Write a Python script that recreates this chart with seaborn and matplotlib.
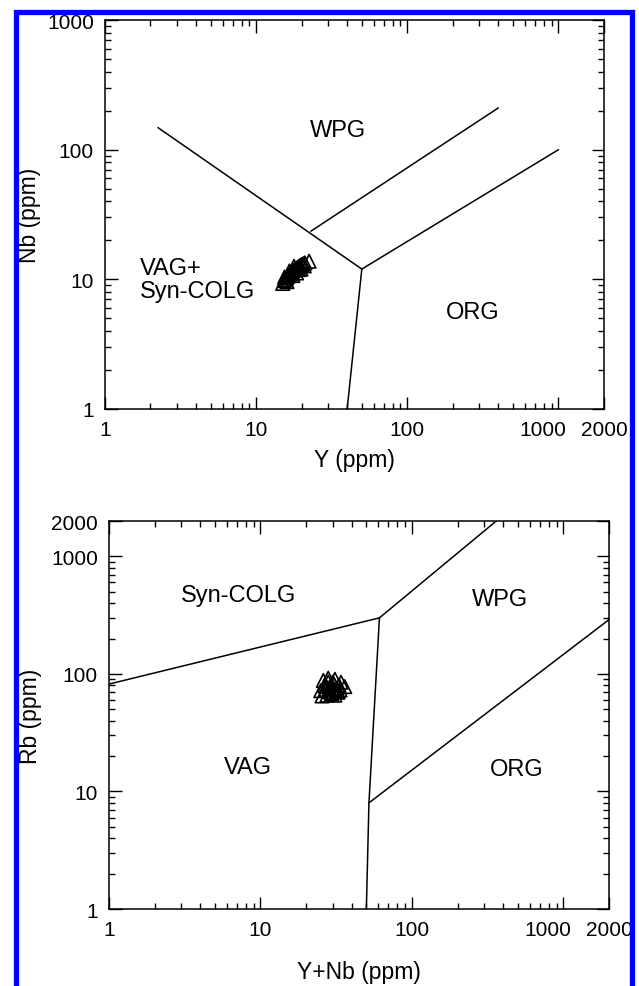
import numpy as np
import pandas as pd
import matplotlib
matplotlib.use("Agg")
import matplotlib.pyplot as plt
import matplotlib.patches as patches
import matplotlib.transforms as mtrans
import seaborn as sns

# Data - sample points
top_y = [15.0, 15.3, 15.6, 15.9, 16.2, 16.5, 16.8, 17.0, 17.3, 17.6, 18.0, 18.3,
         18.7, 19.0, 19.5, 20.0, 20.5, 21.0, 22.4, 16.0, 17.5, 18.5, 19.8,
         15.4, 16.6, 17.8, 19.2, 20.8]
top_nb = [9.3, 9.8, 10.0, 10.3, 10.6, 10.8, 11.0, 11.3, 11.5, 11.7, 11.9, 12.1,
          12.3, 12.5, 12.8, 13.0, 13.2, 13.4, 13.8, 9.6, 10.7, 11.2, 12.0,
          10.4, 11.6, 12.6, 11.9, 12.7]

bot_ynb = [25, 26, 27, 28, 29, 30, 31, 32, 33, 27.5, 29.5, 31.5, 26.5, 28.5,
           30.5, 34, 36, 25.5, 30, 32.5, 28, 27, 31, 29, 33.5]
bot_rb = [72, 88, 78, 92, 70, 85, 90, 75, 80, 66, 68, 72, 80, 75, 82, 85, 78,
          65, 76, 70, 85, 74, 66, 80, 73]

# Data - field boundaries (Nb vs Y)
nby_main_x = [2.24, 50]
nby_main_y = [148, 12]
nby_org_x = [40, 50, 1000]
nby_org_y = [1, 12, 100]
nby_upper_x = [23, 400]
nby_upper_y = [23.5, 210]

# Data - field boundaries (Rb vs Y+Nb)
rb_syn_x = [1, 61, 360]
rb_syn_y = [82, 300, 2000]
rb_vag_x = [50, 52, 61]
rb_vag_y = [1, 8, 300]
rb_org_x = [52, 2000]
rb_org_y = [8, 290]

tick_vals = [1, 10, 100, 1000, 2000]
tick_labels = ["1", "10", "100", "1000", "2000"]

sns.set_style("ticks")
plt.rcParams['font.family'] = ['Liberation Sans', 'DejaVu Sans']
plt.rcParams['text.color'] = 'black'
plt.rcParams['axes.labelcolor'] = 'black'
plt.rcParams['xtick.color'] = 'black'
plt.rcParams['ytick.color'] = 'black'

fig = plt.figure(figsize=(6.39, 9.87), dpi=100)
ax1 = fig.add_axes([0.1643, 0.5846, 0.7809, 0.3941])
ax2 = fig.add_axes([0.1706, 0.0780, 0.7825, 0.3931])

line_kw = dict(color="black", lw=1.1)
pt_kw = dict(marker="^", s=95, facecolors="none", edgecolor="black",
             linewidth=1.2, legend=False)


def style_axes(ax, ylim, yticks, ylabels):
    ax.set_xscale("log")
    ax.set_yscale("log")
    ax.set_xlim(1, 2000)
    ax.set_ylim(*ylim)
    ax.set_xticks(tick_vals)
    ax.set_xticklabels(tick_labels)
    ax.set_yticks(yticks)
    ax.set_yticklabels(ylabels)
    ax.tick_params(which="both", direction="in", top=True, right=True,
                   labelsize=15, width=1.0, color="black", labelcolor="black")
    ax.tick_params(axis="x", which="major", length=9, pad=8)
    ax.tick_params(axis="y", which="major", length=9, pad=8)
    ax.tick_params(which="minor", length=4.5)
    for sp in ax.spines.values():
        sp.set_linewidth(1.1)
        sp.set_color("black")
    # "1000" label sits left of its tick in the original
    shift = mtrans.ScaledTranslation(-16 / 100, 0, fig.dpi_scale_trans)
    lab = ax.get_xticklabels()[3]
    lab.set_transform(lab.get_transform() + shift)


# Top panel: Nb vs Y
df_top = pd.DataFrame({"Y": top_y, "Nb": top_nb})
sns.scatterplot(data=df_top, x="Y", y="Nb", ax=ax1, **pt_kw)
ax1.plot(nby_main_x, nby_main_y, **line_kw)
ax1.plot(nby_org_x, nby_org_y, **line_kw)
ax1.plot(nby_upper_x, nby_upper_y, **line_kw)
style_axes(ax1, (1, 1000), [1, 10, 100, 1000], ["1", "10", "100", "1000"])
ax1.set_xlabel("Y (ppm)", fontsize=16.5)
ax1.set_ylabel("Nb (ppm)", fontsize=16.5)
ax1.xaxis.set_label_coords(0.5, -0.100)
ax1.yaxis.set_label_coords(-0.128, 0.5)
ax1.text(0.467, 0.718, "WPG", transform=ax1.transAxes, fontsize=17,
         ha="center", va="center")
ax1.text(0.07, 0.333, "VAG+\nSyn-COLG", transform=ax1.transAxes, fontsize=17,
         ha="left", va="center", linespacing=1.05)
ax1.text(0.736, 0.249, "ORG", transform=ax1.transAxes, fontsize=17,
         ha="center", va="center")

# Bottom panel: Rb vs Y+Nb
df_bot = pd.DataFrame({"YNb": bot_ynb, "Rb": bot_rb})
sns.scatterplot(data=df_bot, x="YNb", y="Rb", ax=ax2, **pt_kw)
ax2.plot(rb_syn_x, rb_syn_y, **line_kw)
ax2.plot(rb_vag_x, rb_vag_y, **line_kw)
ax2.plot(rb_org_x, rb_org_y, **line_kw)
style_axes(ax2, (1, 2000), tick_vals, tick_labels)
ax2.set_xlabel("Y+Nb (ppm)", fontsize=16.5)
ax2.set_ylabel("Rb (ppm)", fontsize=16.5)
ax2.xaxis.set_label_coords(0.5, -0.132)
ax2.yaxis.set_label_coords(-0.134, 0.5)
ax2.text(0.258, 0.81, "Syn-COLG", transform=ax2.transAxes, fontsize=17,
         ha="center", va="center")
ax2.text(0.782, 0.80, "WPG", transform=ax2.transAxes, fontsize=17,
         ha="center", va="center")
ax2.text(0.278, 0.366, "VAG", transform=ax2.transAxes, fontsize=17,
         ha="center", va="center")
ax2.text(0.816, 0.361, "ORG", transform=ax2.transAxes, fontsize=17,
         ha="center", va="center")

# Blue frame
frame = patches.Rectangle((15.5 / 639, -0.02), (631.5 - 15.5) / 639,
                          (987 - 12.5) / 987 + 0.02, transform=fig.transFigure,
                          fill=False, edgecolor="#0000ff", linewidth=3.8,
                          clip_on=False)
fig.patches.append(frame)

fig.savefig("out.png", dpi=100)
